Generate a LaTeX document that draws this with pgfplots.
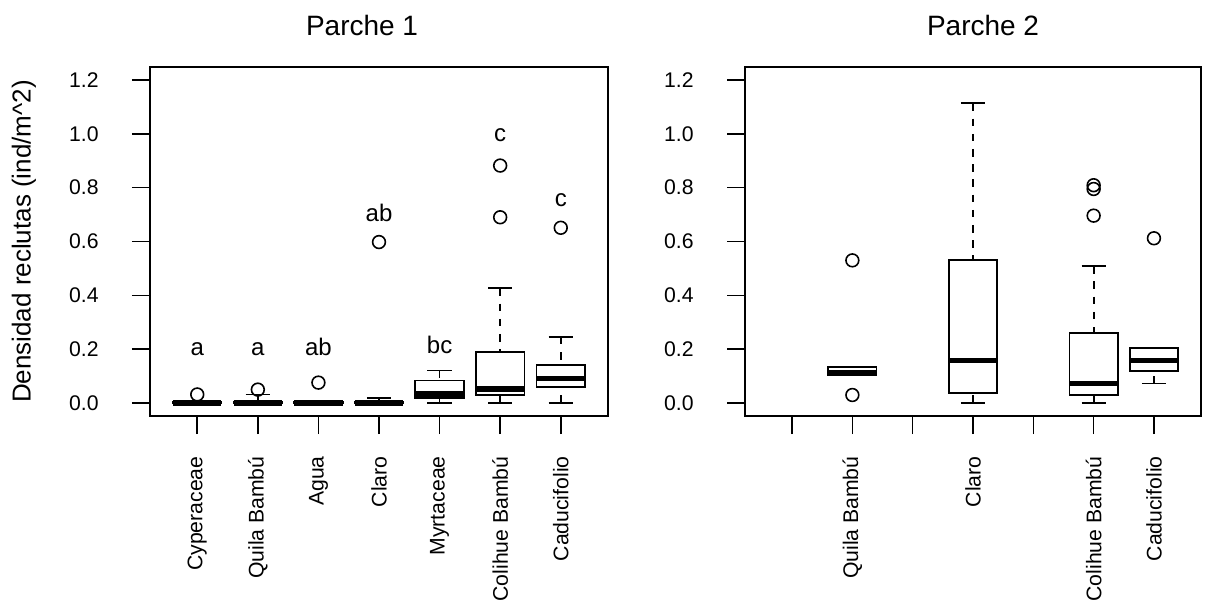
\documentclass[border=0pt]{standalone}
\usepackage{fontspec}
\setmainfont{Liberation Sans}
\usepackage{pgfplots}
\pgfplotsset{compat=1.18}

\tikzset{grp/.style={font=\fontsize{12}{14}\selectfont, anchor=base, inner sep=0pt}}
\pgfplotsset{
  rpanel/.style={
    anchor=south west,
    width=229pt, height=174.5pt, scale only axis,
    xmin=0.22, xmax=7.78, ymin=-0.048, ymax=1.248,
    xtick={1,2,3,4,5,6,7},
    ytick={0,0.2,0.4,0.6,0.8,1.0,1.2},
    yticklabels={0.0,0.2,0.4,0.6,0.8,1.0,1.2},
    xtick pos=bottom, ytick pos=left,
    tick align=outside, major tick length=9pt,
    tick style={line width=0.8pt, black},
    axis line style={line width=0.8pt},
    /pgf/number format/assume math mode=true,
    tick label style={font=\fontsize{10.6}{12}\selectfont, inner sep=0pt},
    xticklabel style={rotate=90, anchor=east},
    yticklabel style={anchor=east},
    xticklabel shift=11pt, yticklabel shift=16.5pt,
    title style={font=\fontsize{14}{16}\selectfont, anchor=center},
  },
  bl/.style={black, line width=0.9pt, no markers, forget plot},
  outl/.style={only marks, mark=o, mark size=3.2pt, black, mark options={line width=0.8pt}},
}

% box: position, lower whisker, lower quartile, median, upper quartile, upper whisker
\newcommand\rbox[6]{%
  \pgfmathsetmacro\xa{#1-0.4}\pgfmathsetmacro\xb{#1+0.4}%
  \pgfmathsetmacro\sa{#1-0.2}\pgfmathsetmacro\sb{#1+0.2}%
  \addplot[bl, dash pattern=on 3.8pt off 3.8pt] coordinates {(#1,#2) (#1,#3)};
  \addplot[bl, dash pattern=on 3.8pt off 3.8pt] coordinates {(#1,#6) (#1,#5)};
  \addplot[bl] coordinates {(\sa,#2) (\sb,#2)};
  \addplot[bl] coordinates {(\sa,#6) (\sb,#6)};
  \addplot[bl, fill=white] coordinates {(\xa,#3) (\xb,#3) (\xb,#5) (\xa,#5)} -- cycle;
  \addplot[bl, line width=2.6pt] coordinates {(\xa,#4) (\xb,#4)};
}

\begin{document}
\begin{tikzpicture}
\useasboundingbox (0,0) rectangle (603pt,301pt);

% ---------------- Parche 1 ----------------
\begin{axis}[rpanel, at={(75pt,93pt)},
  xticklabels={Cyperaceae,Quila Bambú,Agua,Claro,Myrtaceae,Colihue Bambú,Caducifolio},
  title={Parche 1},
  title style={at={(axis description cs:0.463,1)}, yshift=15pt},
  ylabel={Densidad reclutas (ind/m\textasciicircum 2)},
  ylabel style={at={(axis description cs:-0.2751,0.5)}, rotate=0, anchor=center, font=\fontsize{13}{15}\selectfont},
]
\rbox{1}{0}{0}{0}{0.003}{0.003}
\rbox{2}{0}{0}{0}{0.004}{0.032}
\rbox{3}{0}{0}{0}{0.005}{0.005}
\rbox{4}{0}{0}{0}{0.003}{0.02}
\rbox{5}{0}{0.02}{0.034}{0.084}{0.121}
\rbox{6}{0}{0.03}{0.052}{0.189}{0.426}
\rbox{7}{0}{0.06}{0.09}{0.141}{0.246}
\addplot[outl] coordinates {(1,0.032) (2,0.05) (3,0.076) (4,0.598) (6,0.69) (6,0.882) (7,0.651)};
\node[grp] at (axis cs:1,0.175) {a};
\node[grp] at (axis cs:2,0.175) {a};
\node[grp] at (axis cs:3,0.175) {ab};
\node[grp] at (axis cs:4,0.676) {ab};
\node[grp] at (axis cs:5,0.184) {bc};
\node[grp] at (axis cs:6,0.970) {c};
\node[grp] at (axis cs:7,0.730) {c};
\end{axis}

% ---------------- Parche 2 ----------------
\begin{axis}[rpanel, at={(372.5pt,93pt)}, width=228pt,
  xticklabels={,Quila Bambú,,Claro,,Colihue Bambú,Caducifolio},
  title={Parche 2},
  title style={at={(axis description cs:0.522,1)}, yshift=15pt},
]
\rbox{2}{0.105}{0.105}{0.112}{0.135}{0.135}
\rbox{4}{0}{0.036}{0.157}{0.532}{1.113}
\rbox{6}{0}{0.03}{0.073}{0.26}{0.508}
\rbox{7}{0.073}{0.118}{0.158}{0.204}{0.204}
\addplot[outl] coordinates {(2,0.53) (2,0.03) (6,0.696) (6,0.795) (6,0.809) (7,0.612)};
\end{axis}
\end{tikzpicture}
\end{document}
